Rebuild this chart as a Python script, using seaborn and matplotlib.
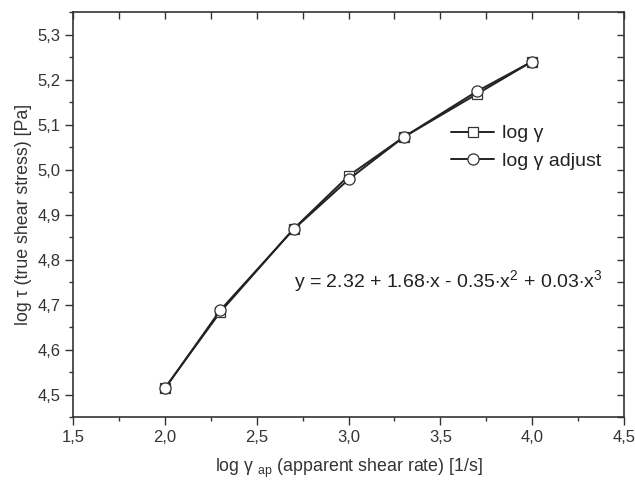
import numpy as np
import pandas as pd
import seaborn as sns
import matplotlib.pyplot as plt
from matplotlib.ticker import FuncFormatter, MultipleLocator

# data
shear_rate = [2.0, 2.3, 2.7, 3.0, 3.3, 3.7, 4.0]
log_gamma = [4.515, 4.683, 4.868, 4.986, 5.072, 5.168, 5.240]
log_gamma_adj = [4.514, 4.687, 4.867, 4.978, 5.072, 5.174, 5.240]

sns.set_style('ticks')
plt.rcParams['font.family'] = ['Liberation Sans', 'DejaVu Sans']
plt.rcParams['mathtext.fontset'] = 'custom'
plt.rcParams['mathtext.rm'] = 'Liberation Sans'

df = pd.DataFrame({'x': shear_rate, 'sq': log_gamma, 'ci': log_gamma_adj})

fig = plt.figure(figsize=(6.35, 4.83), dpi=100)
ax = fig.add_axes([0.1155, 0.1366, 0.867, 0.8385])

sns.lineplot(data=df, x='x', y='sq', ax=ax, color='#222222', lw=1.4,
             marker='s', markersize=7, markerfacecolor='white',
             markeredgecolor='#333333', markeredgewidth=0.9, label='log γ')
sns.lineplot(data=df, x='x', y='ci', ax=ax, color='#222222', lw=1.4,
             marker='o', markersize=8, markerfacecolor='white',
             markeredgecolor='#333333', markeredgewidth=0.9, label='log γ adjust')

ax.set_xlim(1.5, 4.5)
ax.set_ylim(4.45, 5.35)
ax.xaxis.set_major_locator(MultipleLocator(0.5))
ax.xaxis.set_minor_locator(MultipleLocator(0.25))
ax.yaxis.set_major_locator(MultipleLocator(0.1))
ax.yaxis.set_minor_locator(MultipleLocator(0.05))
fmt = FuncFormatter(lambda v, p: f'{v:.1f}'.replace('.', ','))
ax.xaxis.set_major_formatter(fmt)
ax.yaxis.set_major_formatter(fmt)

ax.tick_params(which='both', direction='out', colors='#333333', labelcolor='#333333',
               labelsize=12, width=1.0, pad=3)
ax.tick_params(which='major', length=6)
ax.tick_params(which='minor', length=3)
ax2 = ax.secondary_xaxis('top')
ax2.xaxis.set_major_locator(MultipleLocator(0.5))
ax2.xaxis.set_minor_locator(MultipleLocator(0.25))
ax2.tick_params(which='both', direction='in', labeltop=False, colors='#333333',
                length=5, width=1.0)
ay2 = ax.secondary_yaxis('right')
ay2.yaxis.set_major_locator(MultipleLocator(0.1))
ay2.yaxis.set_minor_locator(MultipleLocator(0.05))
ay2.tick_params(which='both', direction='in', labelright=False, colors='#333333',
                length=5, width=1.0)

for s in ax.spines.values():
    s.set_color('#333333')
    s.set_linewidth(1.2)
for s in list(ax2.spines.values()) + list(ay2.spines.values()):
    s.set_visible(False)

ax.set_xlabel(r'log γ $_{\mathrm{ap}}$ (apparent shear rate) [1/s]', fontsize=12.8,
              color='#333333', labelpad=9)
ax.set_ylabel('log τ (true shear stress) [Pa]', fontsize=12.8, color='#333333')

ax.text(0.40, 0.318, r'y = 2.32 + 1.68$\cdot$x - 0.35$\cdot$x$^2$ + 0.03$\cdot$x$^3$',
        transform=ax.transAxes, fontsize=14, color='#222222', va='baseline')

leg = ax.legend(loc='upper left', bbox_to_anchor=(0.655, 0.765), frameon=False,
                fontsize=14, handlelength=2.2, labelspacing=0.5, handletextpad=0.4)
for t in leg.get_texts():
    t.set_color('#222222')

fig.savefig('out.png', dpi=100)
